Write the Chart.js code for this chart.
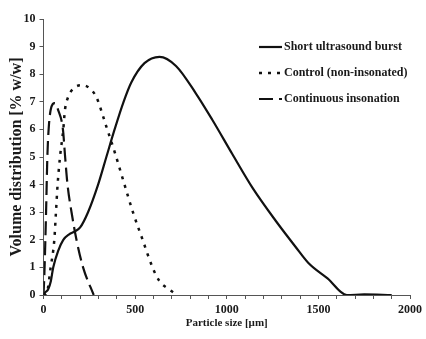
<!DOCTYPE html>
<html>
<head>
<meta charset="utf-8">
<script src="https://cdn.jsdelivr.net/npm/chart.js@4"></script>
<style>
  html, body { margin: 0; padding: 0; background: #ffffff; }
  #wrap { position: relative; width: 426px; height: 339px; }
</style>
</head>
<body>
<div id="wrap"><canvas id="graphCanvas"></canvas></div>
<script>
// values (particle size in um, volume % w/w)
const burstSize = [0, 10, 25, 40, 53, 80, 108, 140, 170, 200, 243, 298, 343, 388, 437, 479, 551, 633, 723, 832, 921, 1031, 1139, 1266, 1375, 1447, 1550, 1655, 1750, 1900];
const burstVol  = [0, 0.1, 0.2, 0.5, 1.0, 1.6, 2.0, 2.2, 2.3, 2.45, 3.0, 4.0, 5.0, 6.0, 7.0, 7.7, 8.4, 8.63, 8.3, 7.3, 6.35, 5.1, 3.9, 2.7, 1.75, 1.15, 0.6, 0, 0.02, 0];

const controlSize = [0, 17, 39, 59, 68, 77, 90, 108, 117, 135, 171, 213, 252, 289, 343, 388, 442, 488, 541, 595, 633, 687, 729];
const controlVol  = [0, 0.05, 1, 2, 3, 4, 5, 6, 6.7, 7.18, 7.52, 7.6, 7.49, 7.16, 6.1, 5.19, 4, 3, 2, 1, 0.5, 0.2, 0];

const contSize = [0, 5, 14, 21, 28, 39, 62, 80, 106, 118, 131, 153, 180, 216, 274];
const contVol  = [0, 0.8, 3, 5, 6, 6.7, 6.95, 6.7, 6.0, 5.0, 4.0, 3.0, 2.0, 1.0, 0];

const seriesNames = ['Short ultrasound burst', 'Control (non-insonated)', 'Continuous insonation'];

const xMajor = 500;

const toPoints = (xs, ys) => xs.map((x, i) => ({ x: x, y: ys[i] }));

const serif = 'Liberation Serif';
const inkColor = '#1a1a1a';

// legend drawn inside the plot, top right
const sideLegend = {
  id: 'sideLegend',
  afterDraw(chart) {
    const ctx = chart.ctx;
    ctx.save();
    chart.data.datasets.forEach((ds, i) => {
      const y = 47 + i * 26;
      ctx.beginPath();
      ctx.setLineDash(ds.borderDash || []);
      ctx.lineWidth = ds.borderWidth;
      ctx.strokeStyle = ds.borderColor;
      ctx.moveTo(259, y);
      ctx.lineTo(282, y);
      ctx.stroke();
      ctx.setLineDash([]);
      ctx.fillStyle = inkColor;
      ctx.font = 'bold 12px "' + serif + '"';
      ctx.textBaseline = 'middle';
      ctx.fillText(ds.label, 284, y);
    });
    ctx.restore();
  }
};

const ctx = document.getElementById('graphCanvas').getContext('2d');
new Chart(ctx, {
  type: 'line',
  data: {
    datasets: [
      {
        label: seriesNames[0],
        data: toPoints(burstSize, burstVol),
        borderColor: '#111',
        borderWidth: 2.2,
        pointRadius: 0,
        cubicInterpolationMode: 'monotone',
      },
      {
        label: seriesNames[1],
        data: toPoints(controlSize, controlVol),
        borderColor: '#111',
        borderWidth: 2.5,
        borderDash: [3, 6],
        pointRadius: 0,
        cubicInterpolationMode: 'monotone',
      },
      {
        label: seriesNames[2],
        data: toPoints(contSize, contVol),
        borderColor: '#111',
        borderWidth: 2.2,
        borderDash: [14, 6],
        pointRadius: 0,
        cubicInterpolationMode: 'monotone',
      },
    ],
  },
  options: {
    responsive: true,
    maintainAspectRatio: false,
    animation: false,
    layout: { padding: { top: 19, right: 14, left: 0, bottom: 0 } },
    plugins: {
      legend: { display: false },
      tooltip: { enabled: false },
    },
    scales: {
      x: {
        type: 'linear',
        min: 0,
        max: 2000,
        afterFit: (s) => { s.height = 44; },
        border: { display: true, color: '#555', width: 1 },
        grid: { drawOnChartArea: false, drawTicks: true, tickLength: 4, color: '#555' },
        ticks: {
          stepSize: 100,
          autoSkip: false,
          maxRotation: 0,
          padding: 4,
          color: inkColor,
          font: { family: serif, size: 12, weight: 'bold' },
          callback: (v) => (v % xMajor === 0 ? v : ''),
        },
        title: {
          display: true,
          text: 'Particle size [µm]',
          color: inkColor,
          font: { family: serif, size: 11, weight: 'bold' },
          padding: { top: 0, bottom: 9 },
        },
      },
      y: {
        type: 'linear',
        min: 0,
        max: 10,
        afterFit: (s) => { s.width = 43.5; },
        border: { display: true, color: '#555', width: 1 },
        grid: { drawOnChartArea: false, drawTicks: true, tickLength: 4, color: '#555' },
        ticks: {
          stepSize: 1,
          padding: 4,
          color: inkColor,
          font: { family: serif, size: 12, weight: 'bold' },
        },
        title: {
          display: true,
          text: 'Volume distribution [% w/w]',
          color: inkColor,
          font: { family: serif, size: 16, weight: 'bold' },
          padding: { top: 7, bottom: 0 },
        },
      },
    },
  },
  plugins: [sideLegend],
});
</script>
</body>
</html>
